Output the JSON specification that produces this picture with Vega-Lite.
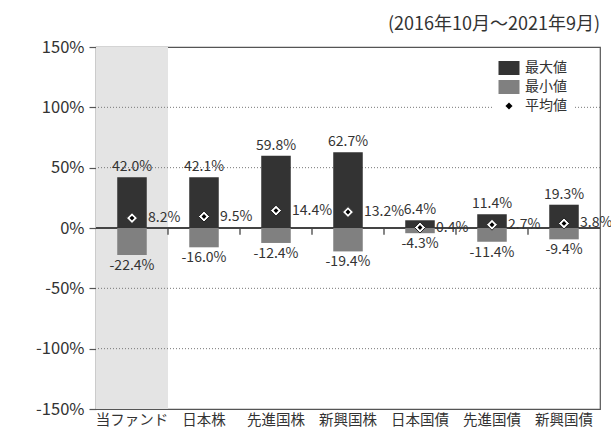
{
  "$schema": "https://vega.github.io/schema/vega-lite/v6.json",
  "width": 504,
  "height": 362,
  "autosize": {"type": "none"},
  "padding": {"left": 96, "top": 47, "right": 11, "bottom": 23},
  "config": {
    "font": "Noto Sans CJK JP",
    "view": {"stroke": "#555", "strokeWidth": 1.2}
  },
  "title": {
    "text": "(2016年10月～2021年9月)",
    "anchor": "end",
    "frame": "group",
    "fontSize": 18,
    "fontWeight": "normal",
    "color": "#333",
    "offset": 5
  },
  "data": {
    "values": [
      {"cat": "当ファンド", "type": "最大値", "value": 42.0},
      {"cat": "当ファンド", "type": "最小値", "value": -22.4},
      {"cat": "当ファンド", "type": "平均値", "value": 8.2},
      {"cat": "日本株", "type": "最大値", "value": 42.1},
      {"cat": "日本株", "type": "最小値", "value": -16.0},
      {"cat": "日本株", "type": "平均値", "value": 9.5},
      {"cat": "先進国株", "type": "最大値", "value": 59.8},
      {"cat": "先進国株", "type": "最小値", "value": -12.4},
      {"cat": "先進国株", "type": "平均値", "value": 14.4},
      {"cat": "新興国株", "type": "最大値", "value": 62.7},
      {"cat": "新興国株", "type": "最小値", "value": -19.4},
      {"cat": "新興国株", "type": "平均値", "value": 13.2},
      {"cat": "日本国債", "type": "最大値", "value": 6.4},
      {"cat": "日本国債", "type": "最小値", "value": -4.3},
      {"cat": "日本国債", "type": "平均値", "value": 0.4},
      {"cat": "先進国債", "type": "最大値", "value": 11.4},
      {"cat": "先進国債", "type": "最小値", "value": -11.4},
      {"cat": "先進国債", "type": "平均値", "value": 2.7},
      {"cat": "新興国債", "type": "最大値", "value": 19.3},
      {"cat": "新興国債", "type": "最小値", "value": -9.4},
      {"cat": "新興国債", "type": "平均値", "value": 3.8}
    ]
  },
  "transform": [
    {"calculate": "(datum.value < 0 ? '-' : '') + format(abs(datum.value), '.1f') + '%'", "as": "lbl"}
  ],
  "resolve": {"axis": {"x": "independent"}},
  "layer": [
    {
      "transform": [{"filter": "datum.cat == '当ファンド' && datum.type == '最大値'"}],
      "mark": {"type": "rect", "color": "#e4e4e4"},
      "encoding": {
        "x": {
          "field": "cat", "type": "nominal",
          "scale": {"domain": ["当ファンド", "日本株", "先進国株", "新興国株", "日本国債", "先進国債", "新興国債"], "paddingInner": 0, "paddingOuter": 0},
          "axis": {"orient": "bottom", "title": null, "ticks": false, "domain": false, "labelAngle": 0, "labelFontSize": 14.5, "labelColor": "#333", "labelPadding": 4, "grid": false}
        },
        "y": {
          "datum": 150, "type": "quantitative",
          "scale": {"domain": [-150, 150], "nice": false},
          "axis": {"title": null, "values": [-150, -100, -50, 0, 50, 100, 150], "labelExpr": "datum.value + '%'", "grid": false, "domain": false, "ticks": true, "tickSize": 7, "tickColor": "#555", "tickWidth": 1.2, "labelFontSize": 16.5, "labelColor": "#333", "labelPadding": 5}
        },
        "y2": {"datum": -150}
      }
    },
    {
      "data": {"values": [{"g": -100}, {"g": -50}, {"g": 50}, {"g": 100}]},
      "mark": {"type": "rule", "color": "#777", "strokeDash": [1, 2], "strokeWidth": 1},
      "encoding": {"y": {"field": "g", "type": "quantitative"}}
    },
    {
      "mark": {"type": "rule", "color": "#444", "strokeWidth": 1.5},
      "encoding": {"y": {"datum": 0, "type": "quantitative"}}
    },
    {
      "transform": [{"filter": "datum.type == '最大値' && datum.cat != '当ファンド'"}],
      "mark": {"type": "rule", "color": "#444", "strokeWidth": 1.3},
      "encoding": {
        "x": {"field": "cat", "type": "nominal", "bandPosition": 0, "axis": null},
        "y": {"datum": 0, "type": "quantitative"},
        "y2": {"datum": -5.5}
      }
    },
    {
      "transform": [{"filter": "datum.type != '平均値'"}],
      "mark": {"type": "bar", "width": {"band": 0.41}},
      "encoding": {
        "x": {"field": "cat", "type": "nominal", "axis": null},
        "y": {"field": "value", "type": "quantitative", "stack": null},
        "color": {
          "field": "type", "type": "nominal",
          "scale": {"domain": ["最大値", "最小値", "平均値"], "range": ["#333333", "#808080", "#000000"]},
          "legend": {
            "title": null,
            "orient": "none",
            "legendX": 398,
            "legendY": 6,
            "fillColor": "white",
            "padding": 8,
            "symbolSize": 196,
            "symbolStrokeWidth": 0,
            "labelFontSize": 14,
            "labelColor": "#333",
            "labelOffset": 9,
            "rowPadding": 5,
            "symbolOpacity": 1,
            "encode": {
              "symbols": {
                "update": {
                  "shape": {"signal": "datum.value === '平均値' ? 'diamond' : 'M-1.5,-1H1.5V1H-1.5Z'"},
                  "size": {"signal": "datum.value === '平均値' ? 50 : 196"},
                  "fillOpacity": {"value": 1}
                }
              }
            }
          }
        }
      }
    },
    {
      "transform": [{"filter": "datum.type == '平均値'"}],
      "mark": {"type": "point", "shape": "diamond", "filled": true, "fill": "white", "stroke": "#222", "strokeWidth": 1, "size": 120, "opacity": 1},
      "encoding": {
        "x": {"field": "cat", "type": "nominal", "axis": null},
        "y": {"field": "value", "type": "quantitative"}
      }
    },
    {
      "transform": [{"filter": "datum.type == '平均値'"}],
      "mark": {"type": "point", "shape": "diamond", "filled": true, "size": 24, "opacity": 1},
      "encoding": {
        "x": {"field": "cat", "type": "nominal", "axis": null},
        "y": {"field": "value", "type": "quantitative"},
        "color": {"field": "type", "type": "nominal"}
      }
    },
    {
      "transform": [{"filter": "datum.type == '最大値'"}],
      "mark": {"type": "text", "baseline": "bottom", "dy": -3, "fontSize": 14, "color": "#333"},
      "encoding": {
        "x": {"field": "cat", "type": "nominal", "axis": null},
        "y": {"field": "value", "type": "quantitative"},
        "text": {"field": "lbl"}
      }
    },
    {
      "transform": [{"filter": "datum.type == '最小値'"}],
      "mark": {"type": "text", "baseline": "top", "dy": 4, "fontSize": 14, "color": "#333"},
      "encoding": {
        "x": {"field": "cat", "type": "nominal", "axis": null},
        "y": {"field": "value", "type": "quantitative"},
        "text": {"field": "lbl"}
      }
    },
    {
      "transform": [{"filter": "datum.type == '平均値'"}],
      "mark": {"type": "text", "align": "left", "baseline": "middle", "dx": 16, "fontSize": 14, "color": "#333"},
      "encoding": {
        "x": {"field": "cat", "type": "nominal", "axis": null},
        "y": {"field": "value", "type": "quantitative"},
        "text": {"field": "lbl"}
      }
    }
  ]
}
